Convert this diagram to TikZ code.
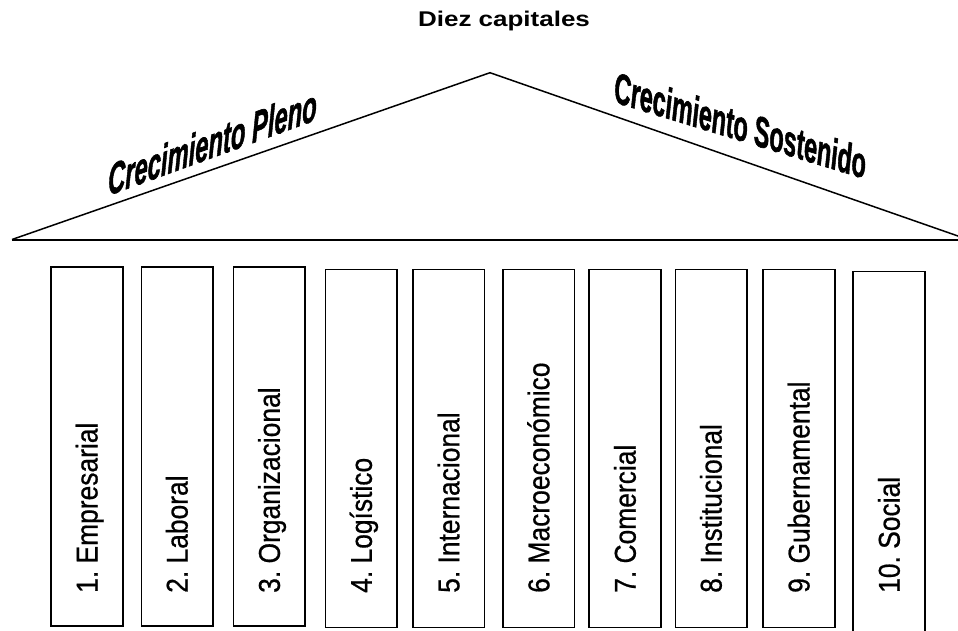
\documentclass[tikz,border=0pt]{standalone}
\usepackage{fontspec}
\setmainfont{Liberation Sans}
\newfontfamily\roofface{Liberation Sans}[FakeBold=1.6]
\newfontfamily\pillarface{Liberation Sans}[FakeBold=0.7]
\usepackage{graphicx}
\frenchspacing
\begin{document}
\begin{tikzpicture}[x=1pt,y=-1pt,
  pillar/.style={draw, line width=1.8pt, inner sep=0pt},
  pillarlabel/.style={rotate=90, anchor=base west, inner sep=0pt,
    font=\pillarface\fontsize{26.4}{30}\selectfont},
  rooftext/.style={inner sep=0pt, font=\roofface\bfseries\itshape\fontsize{44}{48}\selectfont},
  roofline/.style={line width=1.5pt, line join=miter},
  eave/.style={line width=2pt}]
\useasboundingbox (0,0) rectangle (958,630);
\clip (0,0) rectangle (958,630);

% heading
\node[font=\fontsize{21.3}{24}\selectfont\bfseries, anchor=base, inner sep=0pt]
  (title) at (504,26.7) {\scalebox{1.22}[1]{Diez capitales}};

% pediment
\coordinate (apex) at (490,72.7);
\coordinate (eaveL) at (12,239.5);
\coordinate (eaveR) at (968,239.5);
\draw[roofline] (eaveL) -- (apex) -- (eaveR);
\draw[eave] (eaveL) -- (eaveR);

% slanted lettering along the two roof slopes
\node[rooftext, yslant=0.364, xscale=0.54] (grow1) at (212.5,142)
  {Crecimiento Pleno};
\node[rooftext, yslant=-0.306, xscale=0.525] (grow2) at (740,125)
  {Crecimiento Sostenido};

% the ten pillars: left, right, top, bottom, label
\foreach \i/\l/\r/\t/\b/\txt in {
  1/50.7/123.3/266.7/626.7/{1. Empresarial},
  2/141/213.3/266.7/626.5/{2. Laboral},
  3/233/305.7/266.7/626.5/{3. Organizacional},
  4/325/397.7/269/628/{4. Logístico},
  5/412.7/485/269/628/{5. Internacional},
  6/502.7/575/269/628/{6. Macroeconómico},
  7/588.7/661.7/269/628/{7. Comercial},
  8/675/747.3/269/628/{8. Institucional},
  9/762.7/835.3/269/628/{9. Gubernamental},
  10/852.7/925.7/271/634/{10. Social}} {
  \node[pillar, minimum width={(\r-\l-1)*1pt}, minimum height={(\b-\t-1)*1pt}]
    (c\i) at ({(\l+\r)/2},{(\t+\b)/2}) {};
  \node[pillarlabel] (t\i) at ({(\l+\r)/2+10.5},593)
    {\scalebox{1}[1.14]{\txt}};
}
\end{tikzpicture}
\end{document}
